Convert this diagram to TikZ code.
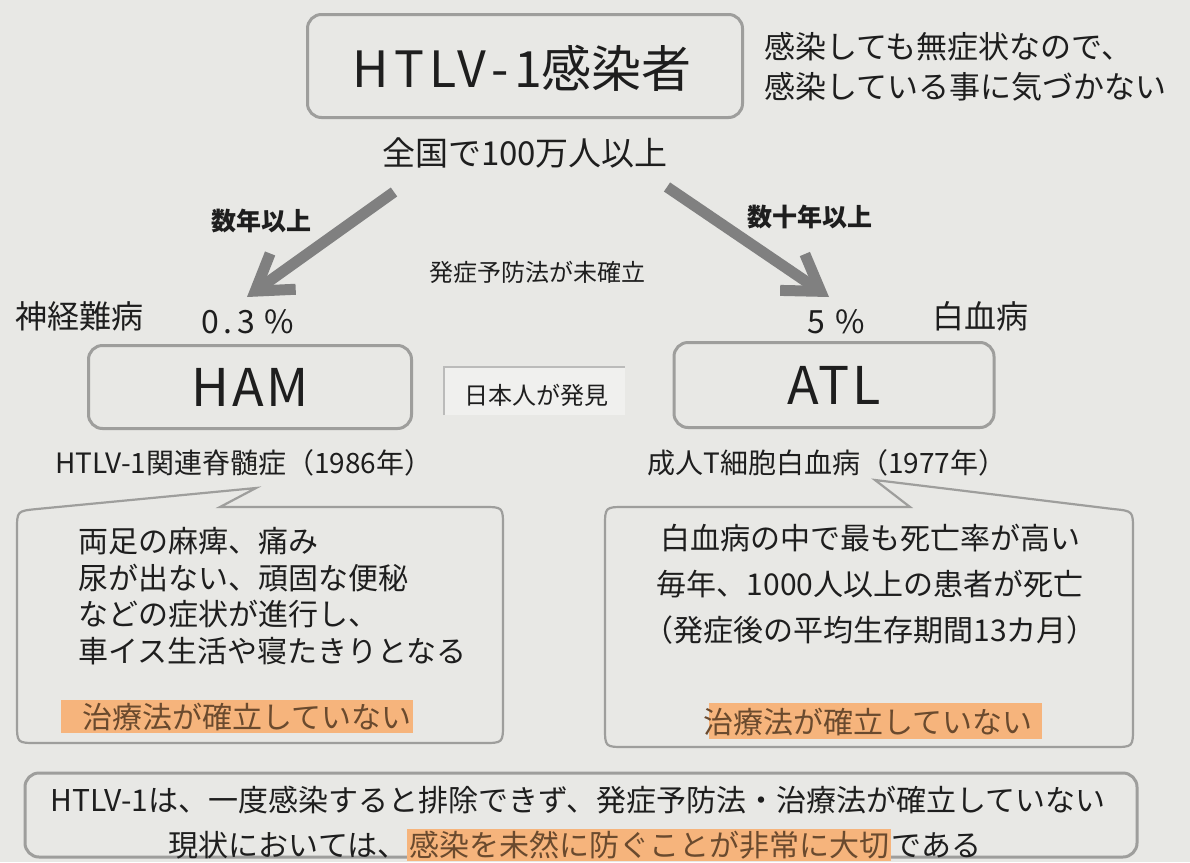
\documentclass[tikz,border=0pt]{standalone}
\usepackage{fontspec}
\setmainfont{Noto Sans CJK JP}
\usetikzlibrary{arrows.meta}
\definecolor{bg}{HTML}{E8E8E5}
\definecolor{boxline}{HTML}{9E9E9C}
\definecolor{arrowc}{HTML}{808080}
\definecolor{txt}{HTML}{1E1E1E}
\definecolor{hl}{HTML}{F6B47C}
\definecolor{hltxt}{HTML}{6A4A2E}
\definecolor{jpbg}{HTML}{F0F0EE}
\newcommand{\myfs}[1]{\fontsize{#1}{#1}\selectfont}
\begin{document}
\begin{tikzpicture}[x=1pt,y=-1pt,
  every node/.style={inner sep=0pt, text=txt},
  box/.style={draw=boxline, line width=3pt, rounded corners=14pt, fill=bg},
  callout/.style={draw=boxline, line width=2.2pt, fill=bg},
  bigarrow/.style={draw=arrowc, line width=11pt, -{Straight Barb[length=34pt,width=44pt]}},
  t33/.style={font=\myfs{33}},
  t31/.style={font=\myfs{31}},
  t30/.style={font=\myfs{30}},
  t28/.style={font=\myfs{28}},
  t24/.style={font=\myfs{24}},
  pct/.style={font=\myfs{32}\addfontfeature{LetterSpace=14}},
  lbl/.style={font=\myfs{25}\bfseries},
  hlt/.style={font=\myfs{30}, text=hltxt}
]
\useasboundingbox (0,0) rectangle (1190,862);
\fill[bg] (0,0) rectangle (1190,862);

% top box
\node[box, minimum width=435pt, minimum height=103pt] (top) at (525,66) {};
\node[font=\myfs{50}] (toptxt) at (522,68) {{\addfontfeature{LetterSpace=11}HTLV-1}感染者};
\node[t31, anchor=west, align=left] (note) at (764,67) {感染しても無症状なので、\\[9pt]感染している事に気づかない};
\node[t33] (pop) at (525,153) {全国で100万人以上};

% arrows
\coordinate (a1s) at (394,192);
\coordinate (a1e) at (247,297);
\coordinate (a2s) at (667,187);
\coordinate (a2e) at (829,297);
\draw[bigarrow] (a1s) -- (a1e);
\draw[bigarrow] (a2s) -- (a2e);
\node[lbl] (y1) at (261,221) {数年以上};
\node[lbl] (y2) at (810,217) {数十年以上};
\node[font=\myfs{24}] (prev) at (537,272) {発症予防法が未確立};

% labels above boxes
\node[font=\myfs{32}] (shinkei) at (79,316) {神経難病};
\node[pct] (p03) at (248,322) {0.3\hspace{10pt}\%};
\node[pct] (p5) at (836,322) {5\hspace{10pt}\%};
\node[font=\myfs{32}] (hak) at (980,316) {白血病};

% HAM / ATL boxes
\node[box, minimum width=323pt, minimum height=83pt] (ham) at (250,387) {};
\node[font=\myfs{52}] (hamt) at (ham.center) {{\addfontfeature{LetterSpace=5}HAM}};
\node[box, minimum width=320pt, minimum height=85pt] (atl) at (834,385) {};
\node[font=\myfs{52}] (atlt) at (atl.center) {{\addfontfeature{LetterSpace=5}ATL}};

% discovered by Japanese
\fill[jpbg] (444,367) rectangle (625,415);
\draw[boxline!70, line width=2pt] (444,415) -- (444,367) -- (625,367);
\node[t24] (jp) at (536,395) {日本人が発見};

\node[t28] (hamname) at (244,463) {HTLV-1関連脊髄症（1986年）};
\node[t28] (atlname) at (827,463) {成人T細胞白血病（1977年）};

% left callout
\draw[callout] (220,507) -- (483,507) .. controls (503,507) .. (503,527) -- (503,723)
  .. controls (503,743) .. (483,743) -- (37,743) .. controls (17,743) .. (17,723)
  -- (17,530) .. controls (17,511) .. (37,509) -- (256,488) -- cycle;
\node[t30, anchor=west, align=left] (ltxt) at (78,596)
  {両足の麻痺、痛み\\[6.5pt]尿が出ない、頑固な便秘\\[6.5pt]などの症状が進行し、\\[6.5pt]車イス生活や寝たきりとなる};
\fill[hl] (61,700) rectangle (413,733);
\node[hlt, anchor=west] (lno) at (82,717) {治療法が確立していない};

% right callout
\draw[callout] (910,507) -- (875,480) -- (1113,509) .. controls (1133,511) .. (1133,530)
  -- (1133,727) .. controls (1133,747) .. (1113,747) -- (625,747)
  .. controls (605,747) .. (605,727) -- (605,527) .. controls (605,507) .. (625,507) -- cycle;
\node[t30, align=center] (rtxt) at (870,584)
  {白血病の中で最も死亡率が高い\\[16pt]毎年、1000人以上の患者が死亡\\[16pt]（発症後の平均生存期間13カ月）};
\fill[hl] (709,703) rectangle (1042,739);
\node[hlt] (rno) at (868,722) {治療法が確立していない};

% bottom box
\node[box, minimum width=1112pt, minimum height=84pt] (bot) at (581,815) {};
\node[t30] (b1) at (578,800) {HTLV-1は、一度感染すると排除できず、発症予防法・治療法が確立していない};
\node[t30] (b2) at (575,845) {現状においては、\setlength{\fboxsep}{2pt}\colorbox{hl}{\color{hltxt}感染を未然に防ぐことが非常に大切}である};
\end{tikzpicture}
\end{document}
